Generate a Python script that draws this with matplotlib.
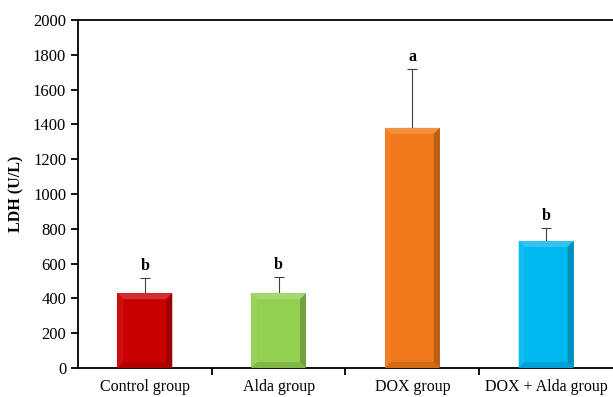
import numpy as np
import matplotlib
matplotlib.use('Agg')
import matplotlib.pyplot as plt
from matplotlib.patches import Polygon
from matplotlib.colors import to_rgb

groups = ['Control group', 'Alda group', 'DOX group', 'DOX + Alda group']
ldh_mean = [430, 430, 1380, 730]
ldh_sd = [88, 92, 338, 75]
letters = ['b', 'b', 'a', 'b']
colors = ['#C80000', '#92D050', '#F07818', '#00B8F0']

plt.rcParams['font.family'] = ['Liberation Serif', 'DejaVu Serif']

fig = plt.figure(figsize=(6.13, 3.97), dpi=100)
ax = fig.add_axes([0.1272, 0.073, 0.8728, 0.8766])

x = np.arange(len(groups))
width = 0.41
ax.set_xlim(-0.5, len(groups) - 0.5)
ax.set_ylim(0, 2000)

bars = ax.bar(x, ldh_mean, width=width, color=colors, edgecolor='none', zorder=2)
ax.errorbar(x, ldh_mean, yerr=[np.zeros(len(x)), ldh_sd], fmt='none',
            ecolor='#404040', elinewidth=0.8, capsize=3.5, capthick=0.8, zorder=1)


def shade(c, f):
    r, g, b = to_rgb(c)
    if f >= 0:
        return (r + (1 - r) * f, g + (1 - g) * f, b + (1 - b) * f)
    return (r * (1 + f), g * (1 + f), b * (1 + f))


# bevelled look on each bar
fig.canvas.draw()
px_x = 1.0 / (ax.transData.transform((1, 0))[0] - ax.transData.transform((0, 0))[0])
px_y = 1.0 / (ax.transData.transform((0, 1))[1] - ax.transData.transform((0, 0))[1])
bev = 6
for b, c in zip(bars, colors):
    x0, y0 = b.get_x(), b.get_y()
    x1, y1 = x0 + b.get_width(), y0 + b.get_height()
    dx, dy = bev * px_x, bev * px_y
    ix0, ix1, iy0, iy1 = x0 + dx, x1 - dx, y0 + dy, y1 - dy
    faces = [
        ([(x0, y1), (x1, y1), (ix1, iy1), (ix0, iy1)], shade(c, 0.18)),
        ([(x0, y0), (x0, y1), (ix0, iy1), (ix0, iy0)], shade(c, 0.06)),
        ([(x1, y0), (x1, y1), (ix1, iy1), (ix1, iy0)], shade(c, -0.22)),
        ([(x0, y0), (x1, y0), (ix1, iy0), (ix0, iy0)], shade(c, -0.12)),
    ]
    for pts, fc in faces:
        ax.add_patch(Polygon(pts, closed=True, facecolor=fc, edgecolor='none', zorder=3))

for xi, m, s, lab in zip(x, ldh_mean, ldh_sd, letters):
    ax.annotate(lab, (xi, m + s), xytext=(0, 3), textcoords='offset points',
                ha='center', va='bottom', fontsize=11.5, fontweight='bold')

ax.set_ylabel('LDH (U/L)', fontsize=11.5, fontweight='bold', labelpad=6)
ax.set_yticks(np.arange(0, 2001, 200))
ax.set_xticks(x)
ax.set_xticklabels(groups)
ax.set_xticks(np.arange(0.5, len(groups) - 0.5, 1), minor=True)
ax.tick_params(axis='x', which='major', length=0, labelsize=11.5, pad=8)
ax.tick_params(axis='x', which='minor', length=5, width=1.3, direction='out')
ax.tick_params(axis='y', labelsize=12, length=5, width=1.3, direction='out')
for sp in ['left', 'bottom', 'top']:
    ax.spines[sp].set_linewidth(1.3)
ax.spines['right'].set_visible(False)

fig.savefig('out.png', dpi=100)
